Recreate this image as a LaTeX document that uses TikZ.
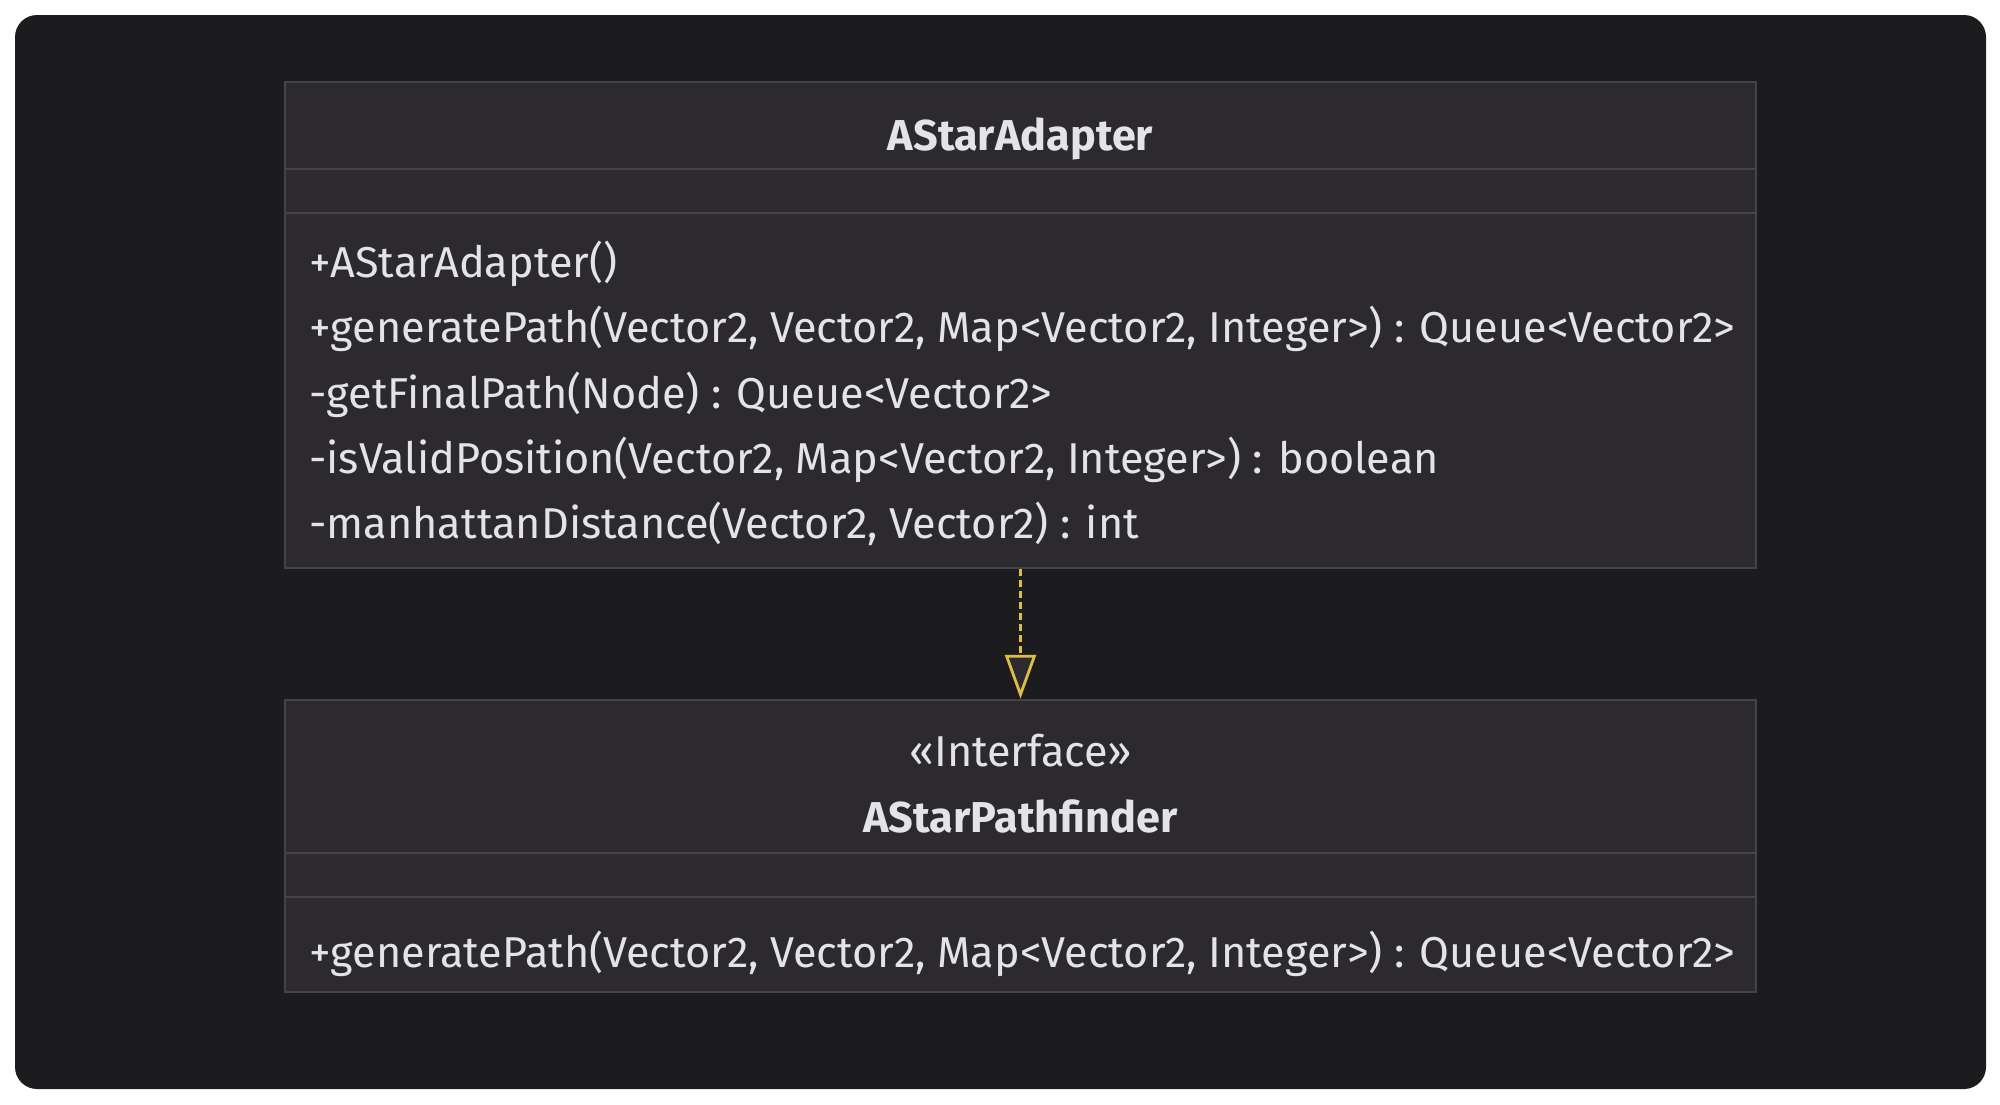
\documentclass[tikz,border=0pt]{standalone}
\usepackage{fontspec}
\setmainfont{Fira Sans}
\usetikzlibrary{arrows.meta}
\definecolor{pagebg}{RGB}{28,28,30}
\definecolor{boxfill}{RGB}{44,42,46}
\definecolor{boxline}{RGB}{68,67,71}
\definecolor{txtcol}{RGB}{228,228,230}
\definecolor{arrowcol}{RGB}{222,188,72}
\newlength\reflen
\begin{document}
\settowidth\reflen{\fontsize{10pt}{12pt}\selectfont +generatePath(Vector2, Vector2, Map<Vector2, Integer>) : Queue<Vector2>}%
\pgfmathsetmacro\fs{10*713/\reflen}%
\begin{tikzpicture}[x=0.5pt,y=-0.5pt]
\tikzset{
  txt/.style={text=txtcol, inner sep=0pt, font=\fontsize{\fs pt}{\fs pt}\selectfont},
  meth/.style={txt, anchor=base west},
  ttl/.style={txt, anchor=base, font=\fontsize{\fs pt}{\fs pt}\selectfont\bfseries},
  stereo/.style={txt, anchor=base},
  umlbox/.style={draw=boxline, fill=boxfill, line width=1.25pt, inner sep=0pt},
  sep/.style={draw=boxline, line width=1.25pt},
  realize/.style={draw=arrowcol, line width=1.6pt, dash pattern=on 3.5pt off 2pt,
    -{Triangle[open, width=15.5pt, length=22pt, line width=1.4pt, fill=boxfill]}}
}
\useasboundingbox (0,0) rectangle (2000,1104);
\fill[white] (0,0) rectangle (2000,1104);
\fill[pagebg, rounded corners=11pt] (15,15) rectangle (1986,1089);
% top class
\node[umlbox, minimum width=735.5pt, minimum height=243pt] (adapter) at (1020.5,325) {};
\draw[sep] (285,169) -- (1756,169);
\draw[sep] (285,213) -- (1756,213);
\node[ttl] (adaptertitle) at (1020.5,150) {AStarAdapter};
\node[meth] (m1) at (309,277) {+AStarAdapter()};
\node[meth] (m2) at (309,342.5) {+generatePath(Vector2, Vector2, Map<Vector2, Integer>) : Queue<Vector2>};
\node[meth] (m3) at (309,408) {-getFinalPath(Node) : Queue<Vector2>};
\node[meth] (m4) at (309,473) {-isValidPosition(Vector2, Map<Vector2, Integer>) : boolean};
\node[meth] (m5) at (309,538) {-manhattanDistance(Vector2, Vector2) : int};
% interface
\node[umlbox, minimum width=735.5pt, minimum height=146pt] (finder) at (1020.5,846) {};
\draw[sep] (285,853) -- (1756,853);
\draw[sep] (285,897) -- (1756,897);
\node[stereo] (stereotype) at (1020.5,766) {«Interface»};
\node[ttl] (findertitle) at (1020.5,832) {AStarPathfinder};
\node[meth] (f1) at (309,967) {+generatePath(Vector2, Vector2, Map<Vector2, Integer>) : Queue<Vector2>};
% realization
\draw[realize] (adapter.south) -- (finder.north);
\end{tikzpicture}
\end{document}
